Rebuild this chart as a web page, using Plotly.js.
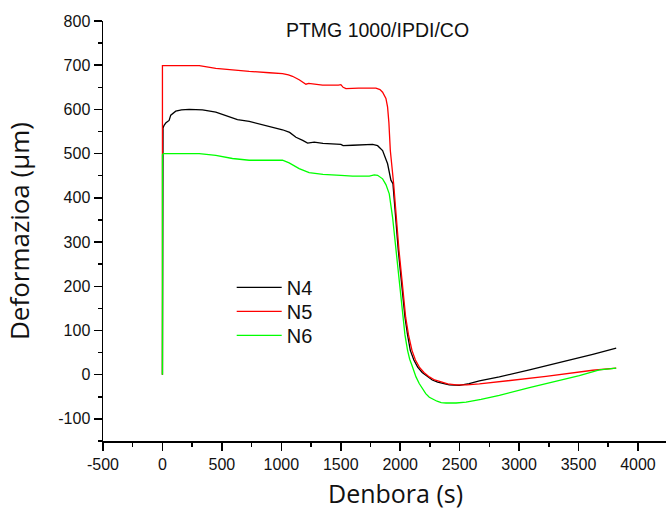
<!DOCTYPE html>
<html>
<head>
<meta charset="utf-8">
<script src="https://cdn.plot.ly/plotly-3.0.1.min.js"></script>
<style>html,body{margin:0;padding:0;background:#fff;}#chart{width:666px;height:510px;}</style>
</head>
<body>
<div id="chart"></div>
<script>
// Data
var seriesNames = ["N4", "N5", "N6"];
var seriesColors = ["#000000", "#ff0000", "#00ff00"];

var n4x = [0,0,5,14,30,56,70,112,160,225,337,449,540,631,730,850,1010,1070,1123,1180,1221,1277,1350,1501,1520,1600,1700,1768,1810,1852,1894,1922,1939,1961,1984,2012,2040,2062,2085,2115,2147,2185,2231,2270,2315,2360,2413,2497,2580,2666,2834,3087,3255,3396,3620,3817];
var n4y = [0,554,558,564,570,575,587,596,599,600,599,594,585,577,573,565,554,548,537,530,524,526,523,521,518,519,520,521,518,507,477,440,432,356,281,206,130,90,55,33,17,5,-5,-12,-17,-20,-23,-24,-20,-14,-5,11,21,31,46,60];

var n5x = [0,0,100,310,449,600,730,900,1010,1060,1094,1150,1207,1230,1263,1347,1480,1501,1520,1544,1650,1796,1830,1852,1880,1894,1905,1917,1945,1967,1990,2018,2046,2070,2099,2128,2161,2200,2245,2290,2343,2400,2470,2560,2666,2834,3227,3620,3817];
var n5y = [0,699,699,699,693,689,686,683,681,678,675,667,657,659,658,655,655,656,650,647,648,648,645,639,625,605,570,507,432,356,281,206,130,90,55,33,17,5,-5,-12,-17,-21,-23,-23,-21,-16,-4,10,15];

var n6x = [0,0,10,310,449,589,730,1010,1066,1100,1150,1234,1350,1501,1600,1740,1782,1810,1852,1880,1908,1936,1964,1992,2020,2040,2062,2080,2100,2133,2160,2190,2215,2245,2275,2310,2345,2385,2470,2554,2680,2834,3087,3255,3507,3676,3817];
var n6y = [0,498,500,500,496,489,485,485,479,473,466,457,453,451,449,449,452,451,443,430,409,356,281,206,130,90,55,35,20,-5,-20,-33,-43,-51,-56,-60,-63,-64,-64,-62,-56,-47,-29,-18,-2,11,15];

// Axis ticks
var xTicks = [-500,0,500,1000,1500,2000,2500,3000,3500,4000];
var yTicks = [-100,0,100,200,300,400,500,600,700,800];

var xs = [n4x, n5x, n6x];
var ys = [n4y, n5y, n6y];
var legendIds = ["legend", "legend2", "legend3"];
var legendTops = [0.412, 0.355, 0.298];

var traces = seriesNames.map(function(name, i){
  return {
    type: "scatter", mode: "lines", name: name,
    x: xs[i], y: ys[i],
    legend: legendIds[i],
    line: {color: seriesColors[i], width: 1.3}
  };
});

var tickFont = {family: "Arial, Liberation Sans, sans-serif", size: 16, color: "#111"};
var titleFont = {family: "Open Sans, sans-serif", size: 25, color: "#111"};
var legendFont = {family: "Arial, Liberation Sans, sans-serif", size: 20, color: "#111"};

var layout = {
  width: 666, height: 510,
  margin: {l: 103, r: 0, t: 21, b: 69, pad: 0},
  paper_bgcolor: "#fff", plot_bgcolor: "#fff",
  showlegend: true,
  title: {
    text: "PTMG 1000/IPDI/CO",
    font: {family: "Arial, Liberation Sans, sans-serif", size: 19.5, color: "#111"},
    x: 0.4876, xref: "paper", xanchor: "center",
    y: 0.94, yref: "container", yanchor: "middle"
  },
  annotations: [{
    text: "Denbora (s)", font: titleFont, showarrow: false,
    xref: "paper", yref: "paper", x: 0.5187, y: -0.124,
    xanchor: "center", yanchor: "middle"
  }],
  xaxis: {
    range: [-500, 4236],
    tickvals: xTicks, ticktext: xTicks.map(String),
    ticks: "outside", ticklen: 8, tickwidth: 1.5, tickcolor: "#000",
    minor: {dtick: 250, tick0: 0, ticks: "outside", ticklen: 4, tickwidth: 1.5, tickcolor: "#000", showgrid: false},
    showline: true, linecolor: "#000", linewidth: 1.5,
    showgrid: false, zeroline: false,
    tickfont: tickFont
  },
  yaxis: {
    range: [-150, 800],
    tickvals: yTicks, ticktext: yTicks.map(String),
    ticks: "outside", ticklen: 8, tickwidth: 1.5, tickcolor: "#000",
    minor: {dtick: 50, tick0: 0, ticks: "outside", ticklen: 4, tickwidth: 1.5, tickcolor: "#000", showgrid: false},
    showline: true, linecolor: "#000", linewidth: 1.5,
    showgrid: false, zeroline: false,
    tickfont: tickFont,
    title: {text: "Deformazioa (µm)", font: {family: "Open Sans, sans-serif", size: 26, color: "#111"}, standoff: 21}
  }
};

legendIds.forEach(function(id, i){
  layout[id] = {
    x: 0.2286, y: legendTops[i], xanchor: "left", yanchor: "top",
    bgcolor: "rgba(0,0,0,0)", borderwidth: 0,
    font: legendFont, itemwidth: 45
  };
});

Plotly.newPlot("chart", traces, layout, {displayModeBar: false, staticPlot: true});
</script>
</body>
</html>
